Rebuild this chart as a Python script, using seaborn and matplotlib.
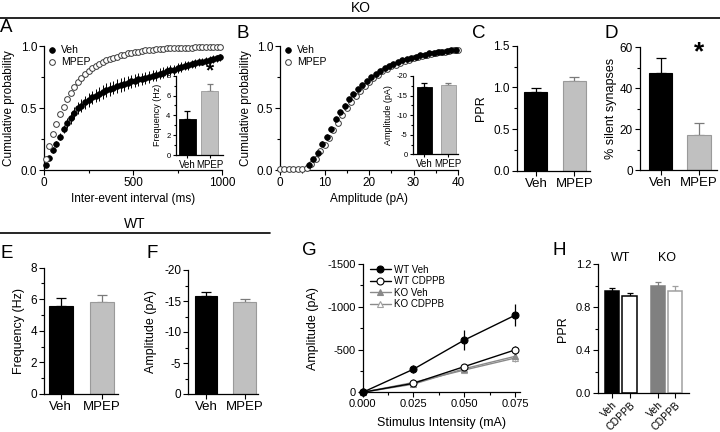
import numpy as np
import pandas as pd
import matplotlib
matplotlib.use("Agg")
import matplotlib.pyplot as plt
from matplotlib.lines import Line2D
from matplotlib.ticker import MultipleLocator, FormatStrFormatter
import seaborn as sns

# ---------------- data ----------------
# Panel A: cumulative inter-event interval (KO)
A_interval = [10, 30, 50, 70, 90, 110, 130, 150, 170, 190,
              210, 230, 250, 270, 290, 310, 330, 350, 370, 390,
              410, 430, 450, 470, 490, 510, 530, 550, 570, 590,
              610, 630, 650, 670, 690, 710, 730, 750, 770, 790,
              810, 830, 850, 870, 890, 910, 930, 950, 970, 990]
A_veh = [0.04, 0.10, 0.16, 0.21, 0.27, 0.33, 0.38, 0.42, 0.46, 0.50,
         0.52, 0.545, 0.565, 0.585, 0.60, 0.615, 0.63, 0.645, 0.655, 0.665,
         0.675, 0.685, 0.695, 0.705, 0.715, 0.72, 0.73, 0.735, 0.745, 0.75,
         0.76, 0.765, 0.775, 0.785, 0.795, 0.805, 0.81, 0.82, 0.83, 0.84,
         0.845, 0.855, 0.86, 0.87, 0.875, 0.88, 0.89, 0.895, 0.90, 0.91]
A_veh_err = [0.01, 0.015, 0.02, 0.025, 0.03, 0.035, 0.04, 0.045, 0.05, 0.052,
             0.055, 0.055, 0.055, 0.055, 0.055, 0.055, 0.055, 0.055, 0.055, 0.055,
             0.055, 0.055, 0.054, 0.053, 0.052, 0.051, 0.05, 0.049, 0.048, 0.047,
             0.046, 0.045, 0.044, 0.043, 0.042, 0.041, 0.04, 0.039, 0.038, 0.037,
             0.036, 0.035, 0.034, 0.033, 0.032, 0.031, 0.03, 0.029, 0.028, 0.027]
A_mpep = [0.09, 0.19, 0.29, 0.37, 0.45, 0.51, 0.57, 0.62, 0.67, 0.71,
          0.745, 0.775, 0.80, 0.82, 0.84, 0.855, 0.87, 0.885, 0.895, 0.905,
          0.915, 0.925, 0.93, 0.94, 0.945, 0.95, 0.955, 0.96, 0.965, 0.968,
          0.971, 0.974, 0.976, 0.978, 0.98, 0.981, 0.982, 0.983, 0.984, 0.985,
          0.986, 0.987, 0.988, 0.988, 0.989, 0.989, 0.99, 0.99, 0.99, 0.991]
A_mpep_err = [0.01, 0.012, 0.014, 0.015, 0.016, 0.016, 0.016, 0.016, 0.015, 0.015,
              0.015, 0.014, 0.014, 0.013, 0.013, 0.012, 0.012, 0.011, 0.011, 0.01,
              0.01, 0.01, 0.009, 0.009, 0.009, 0.008, 0.008, 0.008, 0.007, 0.007,
              0.007, 0.007, 0.006, 0.006, 0.006, 0.006, 0.006, 0.005, 0.005, 0.005,
              0.005, 0.005, 0.005, 0.005, 0.005, 0.005, 0.005, 0.005, 0.005, 0.005]
A_groups = ["Veh", "MPEP"]
A_freq = [3.65, 6.5]
A_freq_err = [0.75, 0.65]

# Panel B: cumulative amplitude (KO)
B_amp_veh = [6.5, 7.5, 8.5, 9.5, 10.5, 11.5, 12.5, 13.5, 14.5, 15.5,
             16.5, 17.5, 18.5, 19.5, 20.5, 21.5, 22.5, 23.5, 24.5, 25.5,
             26.5, 27.5, 28.5, 29.5, 30.5, 31.5, 32.5, 33.5, 34.5, 35.5,
             36.5, 37.5, 38.5, 39.5]
B_veh = [0.04, 0.09, 0.14, 0.21, 0.27, 0.33, 0.41, 0.465, 0.52, 0.57,
         0.61, 0.65, 0.685, 0.72, 0.75, 0.775, 0.80, 0.82, 0.84, 0.855,
         0.87, 0.885, 0.895, 0.905, 0.915, 0.925, 0.93, 0.94, 0.945, 0.95,
         0.955, 0.96, 0.965, 0.97]
B_veh_err = [0.01, 0.015, 0.02, 0.02, 0.02, 0.02, 0.02, 0.02, 0.018, 0.016,
             0.015, 0.014, 0.013, 0.012, 0.011, 0.01, 0.01, 0.009, 0.009, 0.008,
             0.008, 0.007, 0.007, 0.006, 0.006, 0.006, 0.005, 0.005, 0.005, 0.005,
             0.005, 0.005, 0.005, 0.005]
B_amp_mpep = [0, 1, 2, 3, 4, 5, 6, 7, 8, 9,
              10, 11, 12, 13, 14, 15, 16, 17, 18, 19,
              20, 21, 22, 23, 24, 25, 26, 27, 28, 29,
              30, 31, 32, 33, 34, 35, 36, 37, 38, 39, 40]
B_mpep = [0.01, 0.01, 0.01, 0.01, 0.01, 0.01, 0.02, 0.05, 0.09, 0.15,
          0.20, 0.26, 0.32, 0.38, 0.44, 0.50, 0.55, 0.60, 0.64, 0.68,
          0.71, 0.74, 0.77, 0.795, 0.815, 0.835, 0.85, 0.865, 0.88, 0.89,
          0.90, 0.91, 0.92, 0.93, 0.935, 0.945, 0.95, 0.955, 0.96, 0.965, 0.97]
B_groups = ["Veh", "MPEP"]
B_ampl = [-17.3, -17.6]
B_ampl_err = [0.8, 0.5]

# Panel C: PPR (KO)
C_groups = ["Veh", "MPEP"]
C_ppr = [0.95, 1.08]
C_ppr_err = [0.04, 0.045]

# Panel D: % silent synapses (KO)
D_groups = ["Veh", "MPEP"]
D_silent = [47.5, 17.3]
D_silent_err = [7.5, 5.5]

# Panel E: frequency (WT)
E_groups = ["Veh", "MPEP"]
E_freq = [5.55, 5.8]
E_freq_err = [0.55, 0.5]

# Panel F: amplitude (WT)
F_groups = ["Veh", "MPEP"]
F_ampl = [-15.8, -14.9]
F_ampl_err = [0.6, 0.45]

# Panel G: input-output
G_intensity = [0.0, 0.025, 0.050, 0.075]
G_wt_veh = [0, -270, -610, -900]
G_wt_veh_err = [0, 45, 115, 130]
G_wt_cdppb = [0, -105, -300, -495]
G_wt_cdppb_err = [0, 20, 35, 45]
G_ko_veh = [0, -95, -275, -420]
G_ko_veh_err = [0, 15, 35, 40]
G_ko_cdppb = [0, -115, -260, -400]
G_ko_cdppb_err = [0, 20, 40, 45]

# Panel H: PPR with CDPPB
H_geno = ["WT", "WT", "KO", "KO"]
H_cond = ["Veh", "CDPPB", "Veh", "CDPPB"]
H_ppr = [0.95, 0.90, 1.00, 0.955]
H_ppr_err = [0.025, 0.03, 0.035, 0.04]

# ---------------- style ----------------
sns.set_style("ticks", rc={"axes.edgecolor": "black", "xtick.color": "black",
                           "ytick.color": "black", "text.color": "black",
                           "axes.labelcolor": "black"})
plt.rcParams["font.family"] = ["Liberation Sans", "DejaVu Sans"]
plt.rcParams["axes.unicode_minus"] = False

W, H = 720, 432
fig = plt.figure(figsize=(7.2, 4.32), dpi=100)

GRAY_FILL = "#c0c0c0"
GRAY_EDGE = "#9a9a9a"
GRAY_ERR = "#7a7a7a"


def px_axes(x0, y0, x1, y1):
    ax = fig.add_axes([x0 / W, 1 - y1 / H, (x1 - x0) / W, (y1 - y0) / H])
    ax._px = (x0, y0, x1, y1)
    return ax


def style(ax, tick_size=8.5, major=3.5, minor=2.0):
    sns.despine(ax=ax)
    ax.tick_params(which="major", length=major, width=0.8, labelsize=tick_size,
                   pad=1.5, direction="out")
    ax.tick_params(which="minor", length=minor, width=0.8, direction="out")
    for s in ("left", "bottom"):
        ax.spines[s].set_linewidth(0.9)
    ax.set_facecolor("none")


def ylab(ax, text, right_px, size):
    x0, y0, x1, y1 = ax._px
    ax.set_ylabel(text, fontsize=size)
    ax.yaxis.set_label_coords((right_px - x0) / (x1 - x0), 0.5)


def xlab(ax, text, top_px, size):
    x0, y0, x1, y1 = ax._px
    ax.set_xlabel(text, fontsize=size)
    ax.xaxis.set_label_coords(0.5, (y1 - top_px) / (y1 - y0))


def bars(ax, keys, vals, errs, fills, edges, ecols, width, xpos=None,
         invert=False, capsize=3.5, lw=0.8):
    native = xpos is not None
    df = pd.DataFrame({"x": xpos if native else keys, "val": vals, "key": keys})
    sns.barplot(data=df, x="x", y="val", hue="key", hue_order=keys,
                palette=dict(zip(keys, fills)), dodge=False, legend=False,
                width=width, native_scale=native, saturation=1, errorbar=None,
                linewidth=lw, edgecolor="k", ax=ax, zorder=2)
    for patch, ec in zip(ax.patches, edges):
        patch.set_edgecolor(ec)
    xs = xpos if native else list(range(len(keys)))
    for x, v, e, c in zip(xs, vals, errs, ecols):
        yerr = [[e], [0]] if invert else [[0], [e]]
        ax.errorbar([x], [v], yerr=yerr, fmt="none", ecolor=c, elinewidth=0.9,
                    capsize=capsize, capthick=0.9, zorder=1)
    ax.set_xlabel("")


def ftext(x, y, s, **kw):
    fig.text(x / W, 1 - y / H, s, **kw)


# ---------------- Panel A ----------------
axA = px_axes(44, 46, 222, 170)
axA.errorbar(A_interval, A_veh, yerr=A_veh_err, fmt="none", ecolor="k",
             elinewidth=0.7, capsize=0, zorder=2)
axA.errorbar(A_interval, A_mpep, yerr=A_mpep_err, fmt="none", ecolor="#555555",
             elinewidth=0.6, capsize=0, zorder=2)
sns.scatterplot(x=A_interval, y=A_veh, ax=axA, color="k", edgecolor="k", s=17,
                linewidth=0.5, label="Veh", zorder=3, clip_on=False)
sns.scatterplot(x=A_interval, y=A_mpep, ax=axA, color="white", edgecolor="#3a3a3a",
                s=17, linewidth=0.7, label="MPEP", zorder=3, clip_on=False)
axA.set_xlim(0, 1000)
axA.set_ylim(0, 1)
axA.xaxis.set_major_locator(MultipleLocator(500))
axA.xaxis.set_minor_locator(MultipleLocator(250))
axA.yaxis.set_major_locator(MultipleLocator(0.5))
axA.yaxis.set_minor_locator(MultipleLocator(0.25))
axA.yaxis.set_major_formatter(FormatStrFormatter("%.1f"))
style(axA)
ylab(axA, "Cumulative probability", 15, 8.5)
xlab(axA, "Inter-event interval (ms)", 193, 8.5)
axA.legend(loc="upper left", bbox_to_anchor=(0.016, 1.01), frameon=False,
           fontsize=7.5, handletextpad=0.4, borderpad=0, borderaxespad=0,
           labelspacing=0.2, handlelength=1)

# inset A
axAi = px_axes(176, 75.7, 223, 155)
bars(axAi, A_groups, A_freq, A_freq_err, ["black", GRAY_FILL], ["black", GRAY_EDGE],
     ["black", GRAY_ERR], 0.77, capsize=2.2, lw=0.6)
axAi.set_xlim(-0.52, 1.61)
axAi.set_ylim(0, 8)
axAi.yaxis.set_major_locator(MultipleLocator(2))
axAi.yaxis.set_minor_locator(MultipleLocator(1))
style(axAi, tick_size=5.5, major=2.5, minor=1.5)
axAi.tick_params(axis="x", labelsize=7, pad=1)
ylab(axAi, "Frequency (Hz)", 162, 6.5)
ftext(210, 76, "*", ha="center", va="baseline", fontsize=15, fontweight="bold")

# ---------------- Panel B ----------------
axB = px_axes(280, 46, 458, 170)
axB.errorbar(B_amp_veh, B_veh, yerr=B_veh_err, fmt="none", ecolor="k",
             elinewidth=0.6, capsize=0, zorder=2)
sB_m = sns.scatterplot(x=B_amp_mpep, y=B_mpep, ax=axB, color="white", edgecolor="#3a3a3a",
                       s=17, linewidth=0.7, label="MPEP", zorder=3, clip_on=False)
sns.scatterplot(x=B_amp_veh, y=B_veh, ax=axB, color="k", edgecolor="k", s=17,
                linewidth=0.5, label="Veh", zorder=4, clip_on=False)
axB.set_xlim(0, 40)
axB.set_ylim(0, 1)
axB.xaxis.set_major_locator(MultipleLocator(10))
axB.xaxis.set_minor_locator(MultipleLocator(5))
axB.yaxis.set_major_locator(MultipleLocator(0.5))
axB.yaxis.set_minor_locator(MultipleLocator(0.25))
axB.yaxis.set_major_formatter(FormatStrFormatter("%.1f"))
style(axB)
ylab(axB, "Cumulative probability", 252, 8.5)
xlab(axB, "Amplitude (pA)", 193, 8.5)
hB, lB = axB.get_legend_handles_labels()
order = [lB.index("Veh"), lB.index("MPEP")]
axB.legend([hB[i] for i in order], [lB[i] for i in order], loc="upper left",
           bbox_to_anchor=(0.015, 1.01), frameon=False, fontsize=7.5,
           handletextpad=0.4, borderpad=0, borderaxespad=0, labelspacing=0.2,
           handlelength=1)

# inset B
axBi = px_axes(413, 76, 458, 154.3)
bars(axBi, B_groups, B_ampl, B_ampl_err, ["black", GRAY_FILL], ["black", GRAY_EDGE],
     ["black", GRAY_ERR], 0.62, invert=True, capsize=2.2, lw=0.6)
axBi.set_xlim(-0.46, 1.40)
axBi.set_ylim(0, -20)
axBi.yaxis.set_major_locator(MultipleLocator(5))
axBi.yaxis.set_minor_locator(MultipleLocator(2.5))
style(axBi, tick_size=5.5, major=2.5, minor=1.5)
axBi.tick_params(axis="x", labelsize=7, pad=1)
ylab(axBi, "Amplitude (pA)", 393, 6.5)

# ---------------- Panel C ----------------
axC = px_axes(516.7, 45.7, 590, 170.7)
bars(axC, C_groups, C_ppr, C_ppr_err, ["black", GRAY_FILL], ["black", GRAY_EDGE],
     ["black", GRAY_ERR], 0.6, capsize=3.5)
axC.set_xlim(-0.5, 1.41)
axC.set_ylim(0, 1.5)
axC.yaxis.set_major_locator(MultipleLocator(0.5))
axC.yaxis.set_minor_locator(MultipleLocator(0.25))
axC.yaxis.set_major_formatter(FormatStrFormatter("%.1f"))
style(axC)
axC.tick_params(axis="x", labelsize=9.5)
ylab(axC, "PPR", 487, 9)

# ---------------- Panel D ----------------
axD = px_axes(640, 47.3, 716.7, 170)
bars(axD, D_groups, D_silent, D_silent_err, ["black", GRAY_FILL], ["black", GRAY_EDGE],
     ["black", GRAY_ERR], 0.61, capsize=3.5)
axD.set_xlim(-0.54, 1.46)
axD.set_ylim(0, 60)
axD.yaxis.set_major_locator(MultipleLocator(20))
axD.yaxis.set_minor_locator(MultipleLocator(10))
style(axD)
axD.tick_params(axis="x", labelsize=9.5)
ylab(axD, "% silent synapses", 617, 9)
ftext(699, 59, "*", ha="center", va="baseline", fontsize=19, fontweight="bold")

# ---------------- Panel E ----------------
axE = px_axes(44, 267.7, 118, 394)
bars(axE, E_groups, E_freq, E_freq_err, ["black", GRAY_FILL], ["black", GRAY_EDGE],
     ["black", GRAY_ERR], 0.6, capsize=3.5)
axE.set_xlim(-0.41, 1.39)
axE.set_ylim(0, 8)
axE.yaxis.set_major_locator(MultipleLocator(2))
axE.yaxis.set_minor_locator(MultipleLocator(1))
style(axE)
axE.tick_params(axis="x", labelsize=9.5)
ylab(axE, "Frequency (Hz)", 25, 9)

# ---------------- Panel F ----------------
axF = px_axes(188.3, 270, 258, 394)
bars(axF, F_groups, F_ampl, F_ampl_err, ["black", GRAY_FILL], ["black", GRAY_EDGE],
     ["black", GRAY_ERR], 0.58, invert=True, capsize=3.5)
axF.set_xlim(-0.46, 1.35)
axF.set_ylim(0, -20)
axF.yaxis.set_major_locator(MultipleLocator(5))
axF.yaxis.set_minor_locator(MultipleLocator(2.5))
style(axF)
axF.tick_params(axis="x", labelsize=9.5)
ylab(axF, "Amplitude (pA)", 157, 9)

# ---------------- Panel G ----------------
axG = px_axes(362.7, 264, 520, 392.3)
KO_LINE = "#8a8a8a"
series = [
    ("WT Veh", G_wt_veh, G_wt_veh_err, "k", "o", "k", "k"),
    ("WT CDPPB", G_wt_cdppb, G_wt_cdppb_err, "k", "o", "white", "k"),
    ("KO Veh", G_ko_veh, G_ko_veh_err, KO_LINE, "^", "#8a8a8a", "#8a8a8a"),
    ("KO CDPPB", G_ko_cdppb, G_ko_cdppb_err, KO_LINE, "^", "white", "#a0a0a0"),
]
zs = [6, 5, 4, 3]
for (lab, vals, errs, lc, mk, mfc, mec), z in zip(series, zs):
    axG.errorbar(G_intensity, vals, yerr=errs, fmt="none", ecolor=mec,
                 elinewidth=0.9, capsize=0, zorder=z - 0.5, clip_on=False)
    sns.lineplot(x=G_intensity, y=vals, ax=axG, color=lc, linewidth=1.0,
                 marker=mk, markersize=5, markerfacecolor=mfc,
                 markeredgecolor=mec, markeredgewidth=0.8, label=lab,
                 zorder=z, clip_on=False)
axG.set_xlim(0, 0.0775)
axG.set_ylim(0, -1500)
axG.xaxis.set_major_locator(MultipleLocator(0.025))
axG.xaxis.set_minor_locator(MultipleLocator(0.0125))
axG.xaxis.set_major_formatter(FormatStrFormatter("%.3f"))
axG.yaxis.set_major_locator(MultipleLocator(500))
axG.yaxis.set_minor_locator(MultipleLocator(250))
axG.yaxis.set_major_formatter(FormatStrFormatter("%d"))
style(axG, tick_size=8)
ylab(axG, "Amplitude (pA)", 319, 9)
xlab(axG, "Stimulus Intensity (mA)", 417, 9)
axG.legend(loc="upper left", bbox_to_anchor=(0.045, 0.995), frameon=False,
           fontsize=7, handlelength=2.2, handletextpad=0.25, borderpad=0,
           borderaxespad=0, labelspacing=0.15)

# ---------------- Panel H ----------------
axH = px_axes(598.3, 264.3, 689.3, 393)
H_keys = [g + " " + c for g, c in zip(H_geno, H_cond)]
H_pos = [0, 1, 2.6, 3.6]
bars(axH, H_keys, H_ppr, H_ppr_err, ["black", "white", "#808080", "white"],
     ["black", "black", "#808080", "#a0a0a0"],
     ["black", "black", "#808080", "#a0a0a0"], 0.82, xpos=H_pos,
     capsize=2.5, lw=1.1)
axH.set_xlim(-0.79, 4.4)
axH.set_ylim(0, 1.2)
axH.yaxis.set_major_locator(MultipleLocator(0.4))
axH.yaxis.set_minor_locator(MultipleLocator(0.2))
axH.yaxis.set_major_formatter(FormatStrFormatter("%.1f"))
axH.set_xticks(H_pos)
axH.set_xticklabels(H_cond, rotation=45, ha="right", va="top",
                    rotation_mode="anchor", fontsize=7.5)
style(axH, tick_size=8)
axH.tick_params(axis="x", labelsize=7.5)
ylab(axH, "PPR", 569, 9)
for g, xc in (("WT", 0.5), ("KO", 3.1)):
    axH.text(xc, 1.26, g, ha="center", va="center", fontsize=9)

# ---------------- headers & panel letters ----------------
fig.add_artist(Line2D([0, 1], [1 - 18 / H, 1 - 18 / H], transform=fig.transFigure,
                      color="k", linewidth=1.2))
fig.add_artist(Line2D([0, 270 / W], [1 - 233 / H, 1 - 233 / H],
                      transform=fig.transFigure, color="k", linewidth=1.2))
ftext(361, 12, "KO", ha="center", va="baseline", fontsize=10)
ftext(135, 228, "WT", ha="center", va="baseline", fontsize=10)

for letter, x, y in (("A", 0, 32.5), ("B", 236, 38.5), ("C", 472, 38.5),
                     ("D", 604, 38.5), ("E", 1, 257.5), ("F", 146, 257.5),
                     ("G", 302, 255), ("H", 552, 255)):
    ftext(x, y, letter, ha="left", va="baseline", fontsize=13.5)

fig.savefig("out.png", dpi=100)
